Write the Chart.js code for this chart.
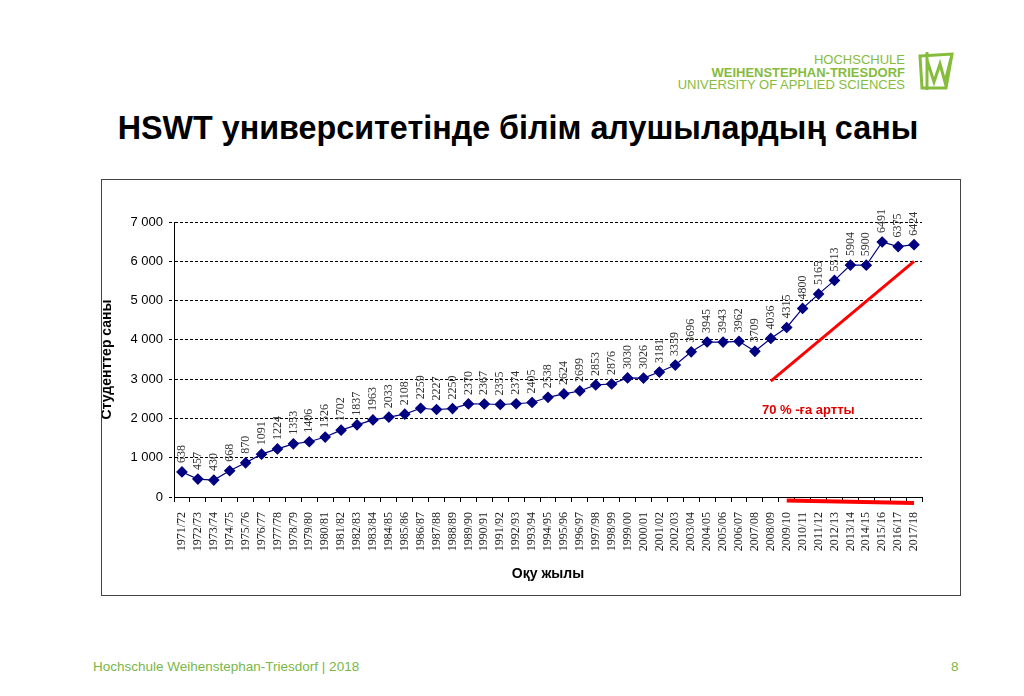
<!DOCTYPE html>
<html>
<head>
<meta charset="utf-8">
<script src="https://cdn.jsdelivr.net/npm/chart.js@4.4.1/dist/chart.umd.min.js"></script>
<style>
  html, body { margin: 0; padding: 0; background: #fff; }
  body { width: 1024px; height: 696px; position: relative; overflow: hidden; font-family: "Liberation Sans", Arial, sans-serif; }
  #title { position: absolute; left: 0; width: 1036px; top: 110px; text-align: center; font-weight: bold; font-size: 32.3px; color: #000; }
  #logo { position: absolute; right: 119px; top: 54px; text-align: right; color: #86bc3c; line-height: 12.5px; }
  #logo .l1 { font-size: 13px; }
  #logo .l2 { font-size: 13px; font-weight: bold; }
  #logo .l3 { font-size: 13px; }
  #icon { position: absolute; left: 916px; top: 50px; }
  #box { position: absolute; left: 101px; top: 179px; width: 860px; height: 417px; border: 1px solid #444; box-sizing: border-box; }
  #note { position: absolute; left: 762px; top: 402px; color: #e00000; font-weight: bold; font-size: 13px; }
  #footer { position: absolute; left: 93px; top: 659px; color: #7ab648; font-size: 13.5px; }
  #page { position: absolute; left: 951px; top: 659px; color: #7ab648; font-size: 13.5px; }
</style>
</head>
<body>
<div id="logo"><div class="l1">HOCHSCHULE</div><div class="l2">WEIHENSTEPHAN-TRIESDORF</div><div class="l3">UNIVERSITY OF APPLIED SCIENCES</div></div>
<svg id="icon" width="40" height="42" viewBox="0 0 40 42">
  <path d="M4 6 L36 4 L30 38 L6 38 Z" fill="none" stroke="#86bc3c" stroke-width="3"/>
  <path d="M11 2 L11 40 M11 10 L18 32 L24 14 L29 32 L35 8" fill="none" stroke="#86bc3c" stroke-width="3"/>
</svg>
<div id="title">HSWT университетінде білім алушылардың саны</div>
<div id="box"><canvas id="chart"></canvas></div>
<div id="note">70 % -ға артты</div>
<div id="footer">Hochschule Weihenstephan-Triesdorf | 2018</div>
<div id="page">8</div>
<script>
// Дереккөз: оқу жылдары және студенттер саны
const years = ['1971/72', '1972/73', '1973/74', '1974/75', '1975/76', '1976/77', '1977/78', '1978/79', '1979/80', '1980/81',
  '1981/82', '1982/83', '1983/84', '1984/85', '1985/86', '1986/87', '1987/88', '1988/89', '1989/90', '1990/91',
  '1991/92', '1992/93', '1993/94', '1994/95', '1995/96', '1996/97', '1997/98', '1998/99', '1999/00', '2000/01',
  '2001/02', '2002/03', '2003/04', '2004/05', '2005/06', '2006/07', '2007/08', '2008/09', '2009/10', '2010/11',
  '2011/12', '2012/13', '2013/14', '2014/15', '2015/16', '2016/17', '2017/18'];
const students = [638, 457, 430, 668, 870, 1091, 1224, 1353, 1406, 1526,
  1702, 1837, 1963, 2033, 2108, 2259, 2227, 2250, 2370, 2367,
  2355, 2374, 2405, 2538, 2624, 2699, 2853, 2876, 3030, 3026,
  3181, 3359, 3696, 3945, 3943, 3962, 3709, 4036, 4315, 4800,
  5165, 5513, 5904, 5900, 6491, 6375, 6424];
const yTicks = [0, 1000, 2000, 3000, 4000, 5000, 6000, 7000];

// Қызыл сызықтар (өсу көрсеткіші)
const trendYears = ['2008/09', '2017/18'];
const trendValues = [2950, 6000];
const baseYears = ['2009/10', '2017/18'];
const baseValues = [-90, -150];

const fmt = v => String(v).replace(/\B(?=(\d{3})+(?!\d))/g, ' ');

// Нүкте үстіндегі тік жазулар
const pointLabels = {
  id: 'pointLabels',
  afterDatasetsDraw(chart) {
    const meta = chart.getDatasetMeta(0);
    const ctx = chart.ctx;
    ctx.save();
    ctx.font = '12px "Liberation Serif"';
    ctx.fillStyle = '#333';
    ctx.textAlign = 'left';
    ctx.textBaseline = 'middle';
    meta.data.forEach((pt, i) => {
      ctx.save();
      ctx.translate(pt.x, pt.y - 9);
      ctx.rotate(-Math.PI / 2);
      ctx.fillText(String(students[i]), 0, 0);
      ctx.restore();
    });
    ctx.restore();
  }
};

const ctx = document.getElementById('chart').getContext('2d');
const chart = new Chart(ctx, {
  type: 'line',
  data: {
    labels: years,
    datasets: [{
      label: 'Студенттер саны',
      data: students,
      borderColor: '#000080',
      backgroundColor: '#000080',
      borderWidth: 1.2,
      pointStyle: 'rectRot',
      pointRadius: 5,
      pointHoverRadius: 5,
      tension: 0
    }, {
      label: 'trend',
      data: trendYears.map((y, i) => ({ x: y, y: trendValues[i] })),
      borderColor: '#ff0000',
      borderWidth: 3,
      pointRadius: 0
    }, {
      label: 'base',
      data: baseYears.map((y, i) => ({ x: y, y: baseValues[i] })),
      borderColor: '#ff0000',
      borderWidth: 4,
      pointRadius: 0,
      clip: false
    }]
  },
  options: {
    responsive: true,
    maintainAspectRatio: false,
    animation: false,
    layout: { padding: { top: 42, right: 38, left: 0, bottom: 0 } },
    plugins: {
      legend: { display: false },
      tooltip: { enabled: false }
    },
    scales: {
      x: {
        offset: true,
        afterFit: s => { s.height = 98; },
        grid: { offset: true, drawOnChartArea: false, drawTicks: true, tickLength: 5, color: '#000' },
        border: { color: '#000', width: 1 },
        ticks: {
          autoSkip: false, maxRotation: 90, minRotation: 90, padding: 10,
          color: '#222', font: { family: '"Liberation Serif"', size: 12 }
        },
        title: {
          display: true, text: 'Оқу жылы', color: '#000',
          font: { family: '"Liberation Sans"', size: 14, weight: 'bold' },
          padding: { top: 0, bottom: 12 }
        }
      },
      y: {
        min: 0, max: 7000,
        afterFit: s => { s.width = 72; },
        afterBuildTicks: s => { s.ticks = yTicks.map(v => ({ value: v })); },
        grid: { color: '#000', lineWidth: 1, tickLength: 5, tickBorderDash: [3, 2] },
        border: { color: '#000', width: 1, dash: [3, 2] },
        ticks: {
          padding: 6, color: '#000',
          font: { family: '"Liberation Sans"', size: 13 },
          callback: v => fmt(v)
        },
        title: {
          display: true, text: 'Студенттер саны', color: '#000',
          font: { family: '"Liberation Sans"', size: 14, weight: 'bold' },
          padding: { top: -3, bottom: 0 }
        }
      }
    }
  },
  plugins: [pointLabels]
});
</script>
</body>
</html>
